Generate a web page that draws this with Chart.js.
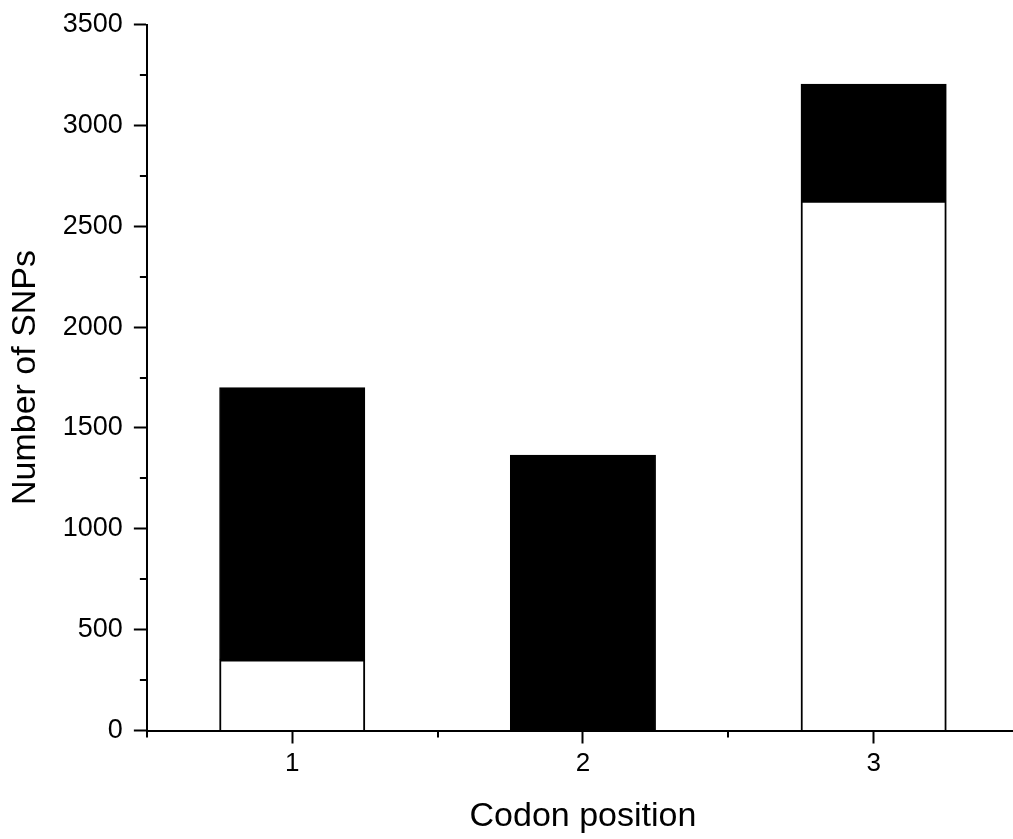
<!DOCTYPE html>
<html>
<head>
<meta charset="utf-8">
<script src="https://cdn.jsdelivr.net/npm/chart.js@4/dist/chart.umd.min.js"></script>
<style>
  html, body { margin: 0; padding: 0; background: #fff; overflow: hidden; }
  #wrap { width: 1024px; height: 839px; }
</style>
</head>
<body>
<div id="wrap"><canvas id="chart" width="1024" height="839"></canvas></div>
<script>
// Codon position vs number of SNPs (stacked)
const positions = [1, 2, 3];
const whiteCounts = [350, 0, 2625];
const blackCounts = [1350, 1365, 580];
const yTicks = [0, 500, 1000, 1500, 2000, 2500, 3000, 3500];

const FONT = '"Liberation Sans", Arial, sans-serif';

// minor tick marks are shorter than the major ones
const minorTicks = {
  id: 'minorTicks',
  afterDraw(chart) {
    const ctx = chart.ctx;
    const area = chart.chartArea;
    const x = chart.scales.x;
    const y = chart.scales.y;
    ctx.save();
    ctx.strokeStyle = '#000';
    ctx.lineWidth = 2;
    y.ticks.forEach(t => {
      if (t.value % 500 === 0) return;
      const py = Math.round(y.getPixelForValue(t.value));
      ctx.beginPath();
      ctx.moveTo(area.left - 7, py);
      ctx.lineTo(area.left, py);
      ctx.stroke();
    });
    x.ticks.forEach(t => {
      if (Number.isInteger(t.value)) return;
      const px = Math.round(x.getPixelForValue(t.value));
      ctx.beginPath();
      ctx.moveTo(px, area.bottom);
      ctx.lineTo(px, area.bottom + 7);
      ctx.stroke();
    });
    ctx.restore();
  }
};

new Chart(document.getElementById('chart'), {
  type: 'bar',
  data: {
    datasets: [
      {
        label: 'white',
        data: positions.map((p, i) => ({ x: p, y: whiteCounts[i] })),
        backgroundColor: '#ffffff',
        borderColor: '#000000',
        borderWidth: 2,
        borderSkipped: 'bottom'
      },
      {
        label: 'black',
        data: positions.map((p, i) => ({ x: p, y: blackCounts[i] })),
        backgroundColor: '#000000',
        borderColor: '#000000',
        borderWidth: 1,
        borderSkipped: false
      }
    ]
  },
  options: {
    responsive: false,
    animation: false,
    // ruler uses the 0.5 tick spacing, so full width = half a category
    barPercentage: 1,
    categoryPercentage: 1,
    layout: { padding: { top: 0, right: 3, left: 0, bottom: 0 } },
    plugins: {
      legend: { display: false },
      tooltip: { enabled: false }
    },
    scales: {
      x: {
        type: 'linear',
        stacked: true,
        offset: false,
        min: 0.5,
        max: 3.5,
        grid: {
          offset: false,
          drawOnChartArea: false,
          tickLength: 13,
          tickWidth: 2,
          tickColor: c => Number.isInteger(c.tick.value) ? '#000' : 'rgba(0,0,0,0)'
        },
        border: { display: true, color: '#000', width: 2 },
        ticks: {
          stepSize: 0.5,
          autoSkip: false,
          maxRotation: 0,
          padding: 5,
          color: '#000',
          font: { family: FONT, size: 26 },
          callback: v => Number.isInteger(v) ? String(v) : ''
        },
        title: {
          display: true,
          text: 'Codon position',
          color: '#000',
          font: { family: FONT, size: 34 },
          padding: { top: 11.5, bottom: 2 }
        }
      },
      y: {
        stacked: true,
        min: 0,
        max: 3500,
        grid: {
          drawOnChartArea: false,
          tickLength: 13,
          tickWidth: 2,
          tickColor: c => c.tick.value % 500 === 0 ? '#000' : 'rgba(0,0,0,0)'
        },
        border: { display: true, color: '#000', width: 2 },
        ticks: {
          stepSize: 250,
          autoSkip: false,
          padding: 11,
          color: '#000',
          font: { family: FONT, size: 27, lineHeight: 1 },
          callback: v => yTicks.includes(v) ? String(v) : ''
        },
        title: {
          display: true,
          text: 'Number of SNPs',
          color: '#000',
          font: { family: FONT, size: 34 },
          padding: { top: 5, bottom: 6 }
        }
      }
    }
  },
  plugins: [minorTicks]
});
</script>
</body>
</html>
